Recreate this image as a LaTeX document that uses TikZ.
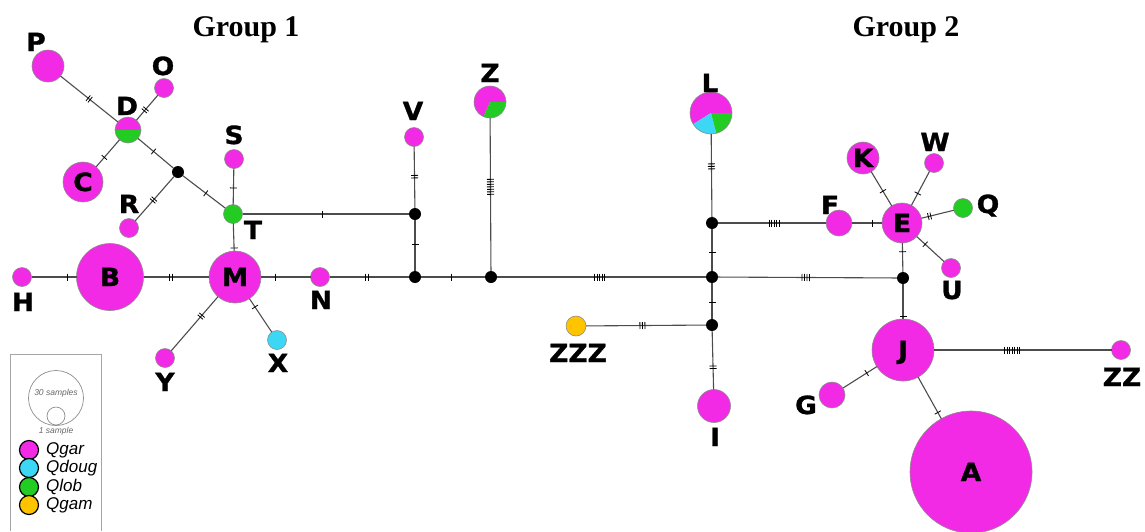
\documentclass[tikz,border=0pt]{standalone}
\usepackage{fontspec}
\setmainfont{Liberation Serif}
\newfontfamily\lblfont[BoldFeatures={FakeBold=1.2, FakeStretch=1.06}]{DejaVu Sans}
\newfontfamily\legfont{Liberation Sans}
\usetikzlibrary{decorations.markings}
\definecolor{qgar}{RGB}{243,42,229}
\definecolor{qdoug}{RGB}{60,215,245}
\definecolor{qlob}{RGB}{34,204,34}
\definecolor{qgam}{RGB}{255,196,0}
\tikzset{
  hap/.style 2 args={circle, fill=#1, draw=black!45, line width=0.6pt, inner sep=0pt, outer sep=0pt, minimum size=#2},
  piehap/.style={circle, draw=none, inner sep=0pt, outer sep=0pt, minimum size=#1},
  hub/.style={circle, fill=black, inner sep=0pt, outer sep=0pt, minimum size=12pt},
  lbl/.style={font=\lblfont\bfseries\fontsize{25}{25}\selectfont, inner sep=0pt, text height=18pt, text depth=0pt},
  grp/.style={font=\bfseries\fontsize{30}{30}\selectfont, inner sep=0pt, anchor=base},
  edge/.style={draw=black!70, line width=1.1pt},
  mut/.style 2 args={postaction={decorate, decoration={markings, mark=at position #1 with {\foreach \k in {1,...,#2}{\draw[black, line width=0.8pt] ({(\k-(#2+1)/2)*2.5},-3.5) -- ({(\k-(#2+1)/2)*2.5},3.5);}}}}},
  legc/.style={circle, draw=black, line width=1.2pt, inner sep=0pt, minimum size=19pt},
  legt/.style={font=\legfont\itshape\fontsize{17}{17}\selectfont, anchor=west, inner sep=0pt},
  smallt/.style={font=\legfont\itshape\fontsize{8.5}{8.5}\selectfont, text=black!60, inner sep=0pt}
}
\begin{document}
\begin{tikzpicture}[x=1pt,y=-1pt]
\useasboundingbox (0,0) rectangle (1145,531);
% group titles
\node[grp] (g1) at (246,36) {Group 1};
\node[grp] (g2) at (906,36) {Group 2};
% pie nodes
\fill[qgar] (128,130) -- ++(0:13) arc[start angle=0, end angle=-180, radius=13] -- cycle;
\fill[qlob] (128,130) -- ++(180:13) arc[start angle=180, end angle=0, radius=13] -- cycle;
\draw[black!45, line width=0.6pt] (128,130) circle[radius=13];
\node[piehap=26pt] (D) at (128,130) {};
\fill[qgar] (490,102) -- ++(114:16) arc[start angle=114, end angle=360, radius=16] -- cycle;
\fill[qlob] (490,102) -- ++(0:16) arc[start angle=0, end angle=114, radius=16] -- cycle;
\draw[black!45, line width=0.6pt] (490,102) circle[radius=16];
\node[piehap=32pt] (Z) at (490,102) {};
\fill[qgar] (711,113) -- ++(0:21) arc[start angle=0, end angle=-212, radius=21] -- cycle;
\fill[qdoug] (711,113) -- ++(-212:21) arc[start angle=-212, end angle=-285, radius=21] -- cycle;
\fill[qlob] (711,113) -- ++(-285:21) arc[start angle=-285, end angle=-360, radius=21] -- cycle;
\draw[black!45, line width=0.6pt] (711,113) circle[radius=21];
\node[piehap=42pt] (L) at (711,113) {};
% haplotypes
\node[hap={qgar}{32pt}] (P) at (48,66) {};
\node[hap={qgar}{19pt}] (O) at (164,88) {};
\node[hap={qgar}{40pt}, lbl] (C) at (83,182) {C};
\node[hap={qgar}{19pt}] (R) at (129,228) {};
\node[hap={qgar}{19pt}] (S) at (234,159) {};
\node[hap={qlob}{19pt}] (T) at (233,214) {};
\node[hap={qgar}{19pt}] (V) at (414,137) {};
\node[hap={qgar}{19pt}] (H) at (22,277) {};
\node[hap={qgar}{67pt}, lbl] (B) at (110,277) {B};
\node[hap={qgar}{52pt}, lbl] (M) at (235,277) {M};
\node[hap={qgar}{19pt}] (N) at (320,277) {};
\node[hap={qgar}{19pt}] (Y) at (165,358) {};
\node[hap={qdoug}{19pt}] (X) at (277,340) {};
\node[hap={qgam}{20pt}] (ZZZ) at (576,326) {};
\node[hap={qgar}{33pt}] (I) at (714,406) {};
\node[hap={qgar}{26pt}] (F) at (839,223) {};
\node[hap={qgar}{40pt}, lbl] (E) at (902,223) {E};
\node[hap={qgar}{32pt}, lbl] (K) at (863,158) {K};
\node[hap={qgar}{19pt}] (W) at (934,163) {};
\node[hap={qlob}{19pt}] (Q) at (963,208) {};
\node[hap={qgar}{19pt}] (U) at (951,268) {};
\node[hap={qgar}{62pt}, lbl] (J) at (903,350) {J};
\node[hap={qgar}{19pt}] (ZZ) at (1121,350) {};
\node[hap={qgar}{26pt}] (G) at (832,395) {};
\node[hap={qgar}{122pt}, lbl] (A) at (971,472) {A};
% median vectors
\node[hub] (b1) at (178,172) {};
\node[hub] (b2) at (415,214) {};
\node[hub] (b3) at (415,277) {};
\node[hub] (b4) at (491,277) {};
\node[hub] (b5) at (712,223) {};
\node[hub] (b6) at (712,277) {};
\node[hub] (b7) at (903,278) {};
\node[hub] (b8) at (712,325) {};
% edges
\draw[edge, mut={0.5}{2}] (P) -- (D);
\draw[edge, mut={0.41}{2}] (D) -- (O);
\draw[edge, mut={0.65}{1}] (D) -- (C);
\draw[edge, mut={0.44}{1}] (D) -- (b1);
\draw[edge, mut={0.53}{2}] (b1) -- (R);
\draw[edge, mut={0.54}{1}] (b1) -- (T);
\draw[edge, mut={0.54}{1}] (S) -- (T);
\draw[edge, mut={0.89}{1}] (T) -- (M);
\draw[edge, mut={0.48}{1}] (T) -- (b2);
\draw[edge, mut={0.49}{2}] (V) -- (b2);
\draw[edge, mut={0.47}{1}] (b2) -- (b3);
\draw[edge, mut={0.8}{1}] (H) -- (B);
\draw[edge, mut={0.42}{2}] (B) -- (M);
\draw[edge, mut={0.3}{1}] (M) -- (N);
\draw[edge, mut={0.47}{2}] (N) -- (b3);
\draw[edge, mut={0.36}{2}] (M) -- (Y);
\draw[edge, mut={0.25}{1}] (M) -- (X);
\draw[edge, mut={0.48}{1}] (b3) -- (b4);
\draw[edge, mut={0.45}{7}] (Z) -- (b4);
\draw[edge, mut={0.49}{5}] (b4) -- (b6);
\draw[edge, mut={0.39}{3}] (L) -- (b5);
\draw[edge, mut={0.55}{1}] (b5) -- (b6);
\draw[edge, mut={0.52}{5}] (b5) -- (F);
\draw[edge, mut={0.68}{1}] (F) -- (E);
\draw[edge, mut={0.43}{1}] (E) -- (K);
\draw[edge, mut={0.35}{1}] (E) -- (W);
\draw[edge, mut={0.25}{2}] (E) -- (Q);
\draw[edge, mut={0.31}{1}] (E) -- (U);
\draw[edge, mut={0.3}{1}] (E) -- (b7);
\draw[edge, mut={0.49}{4}] (b6) -- (b7);
\draw[edge, mut={0.55}{1}] (b6) -- (b8);
\draw[edge, mut={0.47}{3}] (ZZZ) -- (b8);
\draw[edge, mut={0.62}{2}] (b8) -- (I);
\draw[edge, mut={0.92}{1}] (b7) -- (J);
\draw[edge, mut={0.44}{7}] (J) -- (ZZ);
\draw[edge, mut={0.3}{1}] (J) -- (G);
\draw[edge, mut={0.85}{1}] (J) -- (A);
% outside labels
\node[lbl] (lP) at (36,42) {P};
\node[lbl] (lO) at (163,66) {O};
\node[lbl] (lD) at (127,106) {D};
\node[lbl] (lR) at (129,204) {R};
\node[lbl] (lS) at (234,135) {S};
\node[lbl] (lT) at (253,230) {T};
\node[lbl] (lV) at (413,111) {V};
\node[lbl] (lZ) at (490,73) {Z};
\node[lbl] (lL) at (710,83) {L};
\node[lbl] (lH) at (23,302) {H};
\node[lbl] (lN) at (321,300) {N};
\node[lbl] (lY) at (165,382) {Y};
\node[lbl] (lX) at (278,363) {X};
\node[lbl] (lZZZ) at (578,353) {ZZZ};
\node[lbl] (lI) at (715,437) {I};
\node[lbl] (lF) at (830,205) {F};
\node[lbl] (lW) at (935,142) {W};
\node[lbl] (lQ) at (988,204) {Q};
\node[lbl] (lU) at (952,290) {U};
\node[lbl] (lZZ) at (1122,377) {ZZ};
\node[lbl] (lG) at (806,405) {G};
% legend
\draw[black!35, line width=0.8pt] (10,531) -- (10,354) -- (101,354) -- (101,531);
\node[circle, draw=black!45, line width=0.7pt, inner sep=0pt, minimum size=55pt] (big) at (56,398) {};
\node[circle, draw=black!45, line width=0.7pt, inner sep=0pt, minimum size=18pt] (small) at (56,416) {};
\node[smallt] (t30) at (56,393) {30 samples};
\node[smallt] (t1) at (56,431) {1 sample};
\node[legc, fill=qgar] (c1) at (29,450) {};
\node[legc, fill=qdoug] (c2) at (29,468) {};
\node[legc, fill=qlob] (c3) at (29,487) {};
\node[legc, fill=qgam] (c4) at (29,505) {};
\node[legt] (tq1) at (46,450) {Qgar};
\node[legt] (tq2) at (46,468) {Qdoug};
\node[legt] (tq3) at (46,487) {Qlob};
\node[legt] (tq4) at (46,505) {Qgam};
\end{tikzpicture}
\end{document}
